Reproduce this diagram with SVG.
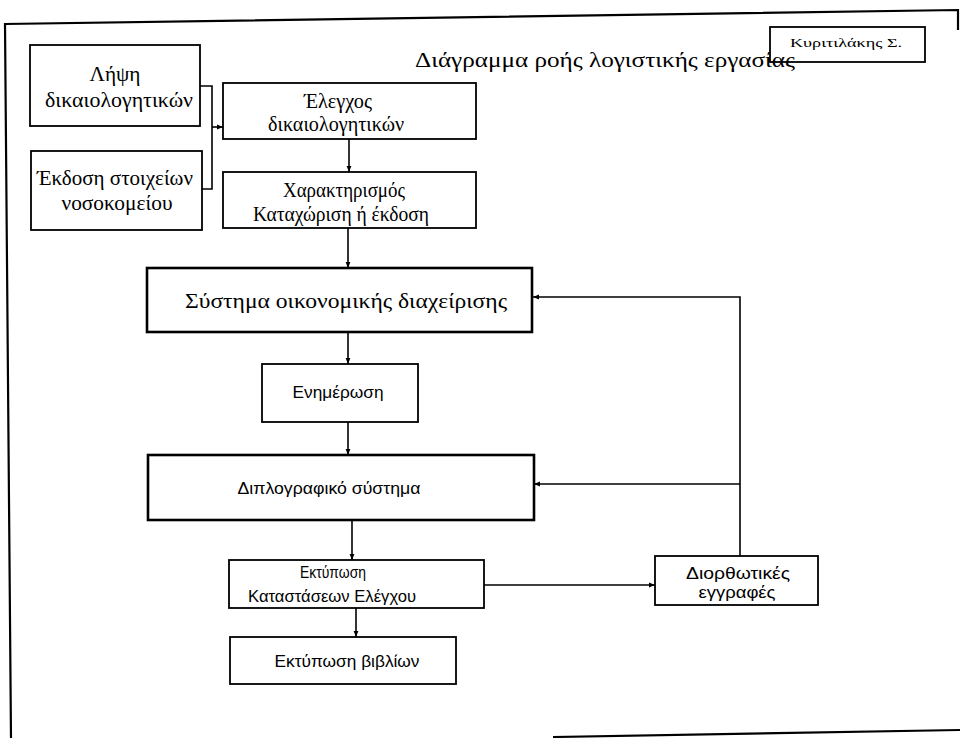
<svg xmlns="http://www.w3.org/2000/svg" width="960" height="738" viewBox="0 0 960 738">
  <defs>
    <marker id="arrow" viewBox="0 0 10 10" refX="10" refY="5" markerWidth="6" markerHeight="6" orient="auto" markerUnits="userSpaceOnUse">
      <path d="M0,1 L10,5 L0,9 z" fill="#000"/>
    </marker>
    <style>
      .box { fill: none; stroke: #000; stroke-width: 1.8; }
      .box-heavy { fill: none; stroke: #000; stroke-width: 2.6; }
      .serif { fill: #000; text-anchor: middle; }
      .sans { fill: #000; text-anchor: middle; }
      .link { fill: none; stroke: #000; stroke-width: 1.6; }
      .frame { fill: none; stroke: #000; stroke-width: 2.2; }
    </style>
  </defs>

  <rect width="960" height="738" fill="#fff"/>

  <!-- page frame -->
  <g id="frame">
    <polyline class="frame" points="958,30 958,10 5,24 11,738"/>
    <line class="frame" x1="553" y1="737" x2="960" y2="730"/>
  </g>

  <!-- connectors -->
  <g id="connectors">
    <polyline class="link" points="200,86 212,86 212,189 202,189"/>
    <line class="link" x1="212" y1="127" x2="223" y2="127" marker-end="url(#arrow)"/>
    <line class="link" x1="349" y1="139" x2="349" y2="172" marker-end="url(#arrow)"/>
    <line class="link" x1="348" y1="228" x2="348" y2="268" marker-end="url(#arrow)"/>
    <line class="link" x1="348" y1="332" x2="348" y2="364" marker-end="url(#arrow)"/>
    <line class="link" x1="348" y1="422" x2="348" y2="455" marker-end="url(#arrow)"/>
    <line class="link" x1="352" y1="520" x2="352" y2="560" marker-end="url(#arrow)"/>
    <line class="link" x1="484" y1="585" x2="655" y2="585" marker-end="url(#arrow)"/>
    <line class="link" x1="356" y1="608" x2="356" y2="637" marker-end="url(#arrow)"/>
    <polyline class="link" points="740,556 740,297 533,297" marker-end="url(#arrow)"/>
    <line class="link" x1="740" y1="484" x2="534" y2="484" marker-end="url(#arrow)"/>
  </g>

  <!-- serif-set labels (title and upper boxes) -->
  <g font-family="'Liberation Serif', 'DejaVu Serif', serif">
    <g id="title">
      <text class="serif" x="605" y="67" font-size="22" textLength="380" lengthAdjust="spacingAndGlyphs">Διάγραμμα ροής λογιστικής εργασίας</text>
    </g>
    <g id="author">
      <rect class="box" x="770" y="27" width="155" height="35"/>
      <text class="serif" x="846" y="47" font-size="13" textLength="112" lengthAdjust="spacingAndGlyphs">Κυριτιλάκης Σ.</text>
    </g>

    <g id="lipsi">
      <rect class="box" x="30" y="45" width="170" height="81"/>
      <text class="serif" x="115" y="81" font-size="20" textLength="51" lengthAdjust="spacingAndGlyphs">Λήψη</text>
      <text class="serif" x="119" y="107" font-size="20" textLength="148" lengthAdjust="spacingAndGlyphs">δικαιολογητικών</text>
    </g>

    <g id="ekdosi">
      <rect class="box" x="31" y="151" width="171" height="79"/>
      <text class="serif" x="115" y="185" font-size="20" textLength="156" lengthAdjust="spacingAndGlyphs">Έκδοση στοιχείων</text>
      <text class="serif" x="117" y="210" font-size="20" textLength="111" lengthAdjust="spacingAndGlyphs">νοσοκομείου</text>
    </g>

    <g id="elegxos">
      <rect class="box" x="223" y="83" width="253" height="56"/>
      <text class="serif" x="338" y="108" font-size="20" textLength="68" lengthAdjust="spacingAndGlyphs">Έλεγχος</text>
      <text class="serif" x="336" y="131" font-size="20" textLength="136" lengthAdjust="spacingAndGlyphs">δικαιολογητικών</text>
    </g>

    <g id="xaraktirismos">
      <rect class="box" x="223" y="172" width="253" height="56"/>
      <text class="serif" x="344" y="197" font-size="20" textLength="122" lengthAdjust="spacingAndGlyphs">Χαρακτηρισμός</text>
      <text class="serif" x="341" y="221" font-size="20" textLength="176" lengthAdjust="spacingAndGlyphs">Καταχώριση ή έκδοση</text>
    </g>

    <g id="systima-oikonomikis">
      <rect class="box-heavy" x="147" y="268" width="385" height="64"/>
      <text class="serif" x="346" y="308" font-size="21" textLength="322" lengthAdjust="spacingAndGlyphs">Σύστημα οικονομικής διαχείρισης</text>
    </g>
  </g>

  <!-- sans-set labels (lower boxes) -->
  <g font-family="'Liberation Sans', 'DejaVu Sans', sans-serif">
    <g id="enimerosi">
      <rect class="box" x="262" y="364" width="156" height="58"/>
      <text class="sans" x="338" y="398" font-size="16" textLength="91" lengthAdjust="spacingAndGlyphs">Ενημέρωση</text>
    </g>

    <g id="diplografiko">
      <rect class="box-heavy" x="148" y="455" width="386" height="65"/>
      <text class="sans" x="329" y="494" font-size="17" textLength="183" lengthAdjust="spacingAndGlyphs">Διπλογραφικό σύστημα</text>
    </g>

    <g id="ektyposi-katastaseon">
      <rect class="box" x="229" y="560" width="255" height="48"/>
      <text class="sans" x="333" y="578" font-size="16" textLength="66" lengthAdjust="spacingAndGlyphs">Εκτύπωση</text>
      <text class="sans" x="332" y="602" font-size="16" textLength="168" lengthAdjust="spacingAndGlyphs">Καταστάσεων Ελέγχου</text>
    </g>

    <g id="diorthotikes">
      <rect class="box" x="655" y="556" width="163" height="49"/>
      <text class="sans" x="738" y="579" font-size="16" textLength="104" lengthAdjust="spacingAndGlyphs">Διορθωτικές</text>
      <text class="sans" x="737" y="598" font-size="16" textLength="77" lengthAdjust="spacingAndGlyphs">εγγραφές</text>
    </g>

    <g id="ektyposi-vivlion">
      <rect class="box" x="230" y="637" width="226" height="47"/>
      <text class="sans" x="347" y="667" font-size="16" textLength="145" lengthAdjust="spacingAndGlyphs">Εκτύπωση βιβλίων</text>
    </g>
  </g>
</svg>
